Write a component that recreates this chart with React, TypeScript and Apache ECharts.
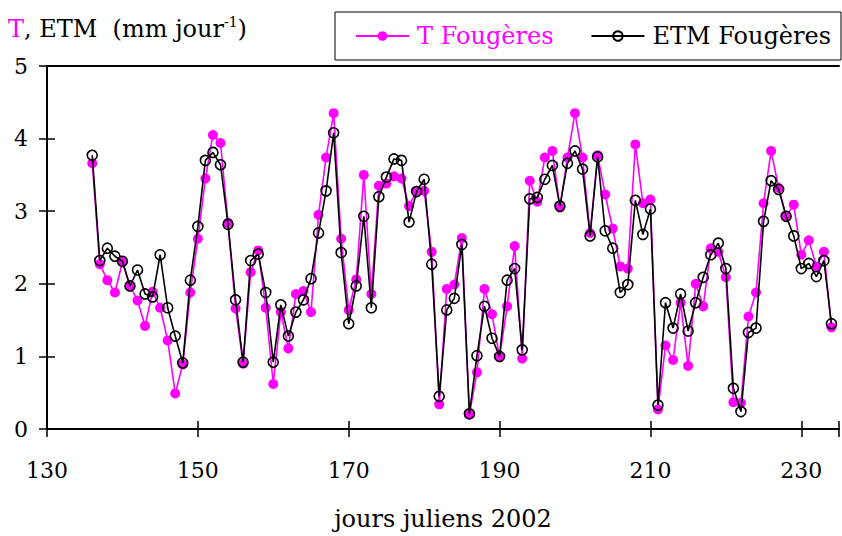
import React, { useEffect, useRef } from "react";
import * as echarts from "echarts";

const days = [
  136, 137, 138, 139, 140, 141, 142, 143, 144, 145, 146, 147, 148, 149, 150,
  151, 152, 153, 154, 155, 156, 157, 158, 159, 160, 161, 162, 163, 164, 165,
  166, 167, 168, 169, 170, 171, 172, 173, 174, 175, 176, 177, 178, 179, 180,
  181, 182, 183, 184, 185, 186, 187, 188, 189, 190, 191, 192, 193, 194, 195,
  196, 197, 198, 199, 200, 201, 202, 203, 204, 205, 206, 207, 208, 209, 210,
  211, 212, 213, 214, 215, 216, 217, 218, 219, 220, 221, 222, 223, 224, 225,
  226, 227, 228, 229, 230, 231, 232, 233, 234,
];

const tFougeres = [
  3.66, 2.27, 2.05, 1.88, 2.3, 1.97, 1.77, 1.42, 1.89, 1.67, 1.22, 0.49, 0.89, 1.88, 2.62,
  3.45, 4.05, 3.94, 2.84, 1.66, 0.9, 2.16, 2.46, 1.67, 0.62, 1.61, 1.11, 1.86, 1.9, 1.61,
  2.95, 3.74, 4.35, 2.62, 1.64, 2.06, 3.5, 1.86, 3.35, 3.38, 3.48, 3.45, 3.07, 3.28, 3.28,
  2.44, 0.34, 1.93, 1.99, 2.63, 0.2, 0.78, 1.93, 1.58, 0.99, 1.69, 2.52, 0.97, 3.42, 3.13,
  3.74, 3.83, 3.05, 3.74, 4.35, 3.74, 2.7, 3.77, 3.23, 2.76, 2.24, 2.21, 3.92, 3.11, 3.16,
  0.27, 1.15, 0.95, 1.74, 0.87, 2.0, 1.69, 2.49, 2.44, 2.09, 0.37, 0.36, 1.55, 1.88, 3.11,
  3.83, 3.32, 2.93, 3.09, 2.4, 2.6, 2.24, 2.44, 1.4,
];

const etmFougeres = [
  3.77, 2.32, 2.49, 2.38, 2.31, 1.97, 2.19, 1.86, 1.82, 2.4, 1.67, 1.28, 0.91, 2.05, 2.79,
  3.7, 3.81, 3.64, 2.82, 1.78, 0.92, 2.32, 2.41, 1.88, 0.92, 1.71, 1.28, 1.61, 1.78, 2.07,
  2.7, 3.28, 4.08, 2.43, 1.45, 1.97, 2.93, 1.67, 3.2, 3.47, 3.72, 3.7, 2.85, 3.27, 3.44,
  2.27, 0.45, 1.64, 1.8, 2.54, 0.21, 1.01, 1.69, 1.25, 1.0, 2.05, 2.21, 1.09, 3.17, 3.19,
  3.44, 3.63, 3.07, 3.66, 3.83, 3.58, 2.66, 3.75, 2.73, 2.49, 1.88, 1.99, 3.15, 2.68, 3.03,
  0.33, 1.74, 1.39, 1.86, 1.35, 1.74, 2.09, 2.4, 2.56, 2.21, 0.56, 0.24, 1.33, 1.39, 2.86,
  3.42, 3.3, 2.93, 2.66, 2.21, 2.28, 2.1, 2.32, 1.45,
];

const xTickLabels = [130, 150, 170, 190, 210, 230];
const yTickLabels = [0, 1, 2, 3, 4, 5];

const FONT = "DejaVu Serif";
const MAGENTA = "#ff00ff";

export default function App() {
  const ref = useRef<HTMLDivElement>(null);

  useEffect(() => {
    if (!ref.current) return;
    const chart = echarts.init(ref.current, undefined, { renderer: "svg" });
    const xMin = xTickLabels[0];
    const xMax = 235;
    const yMin = yTickLabels[0];
    const yMax = yTickLabels[yTickLabels.length - 1];

    const option: any = {
      animation: false,
      backgroundColor: "#ffffff",
      title: {
        text: "{m|T}{b|, ETM\u00a0\u00a0(mm jour}{s|-1}{b|)}",
        left: 8,
        top: 15,
        padding: 0,
        textStyle: {
          fontWeight: "normal",
          rich: {
            m: { color: MAGENTA, fontFamily: FONT, fontSize: 24, fontWeight: "normal", lineHeight: 28 },
            b: { color: "#000", fontFamily: FONT, fontSize: 24, fontWeight: "normal", lineHeight: 28 },
            s: { color: "#000", fontFamily: FONT, fontSize: 14, fontWeight: "normal", lineHeight: 14, verticalAlign: "top" },
          },
        },
      },
      legend: {
        left: 335,
        top: 12,
        padding: [12, 10, 12, 20],
        itemWidth: 53,
        itemHeight: 12,
        itemGap: 37,
        borderColor: "#000",
        borderWidth: 1,
        textStyle: { fontFamily: FONT, fontSize: 24, padding: [0, 0, 0, 3] },
        data: [
          { name: "T Fougères", textStyle: { color: MAGENTA } },
          { name: "ETM Fougères", textStyle: { color: "#000" } },
        ],
      },
      grid: { left: 47, right: 0, top: 66, bottom: 105.5, containLabel: false },
      xAxis: [
        {
          type: "value",
          min: xMin,
          max: xMax,
          interval: 20,
          position: "bottom",
          axisLine: { show: true, lineStyle: { color: "#000", width: 2 } },
          axisTick: { show: true, inside: false, length: 8, lineStyle: { color: "#000", width: 1.5 } },
          axisLabel: {
            color: "#000",
            fontFamily: FONT,
            fontSize: 22,
            margin: 30,
            formatter: (v: number) => (xTickLabels.indexOf(v) >= 0 ? String(v) : ""),
          },
          splitLine: { show: false },
          name: "jours juliens 2002",
          nameLocation: "middle",
          nameGap: 78,
          nameTextStyle: { color: "#000", fontFamily: FONT, fontSize: 24 },
        },
        {
          type: "value",
          min: xMin,
          max: xMax,
          interval: 20,
          position: "bottom",
          axisLine: { show: false },
          axisTick: { show: true, inside: true, length: 8, lineStyle: { color: "#000", width: 1.5 } },
          axisLabel: { show: false },
          splitLine: { show: false },
        },
        {
          type: "value",
          min: xMin,
          max: xMax,
          position: "top",
          axisLine: { show: true, lineStyle: { color: "#000", width: 2 } },
          axisTick: { show: false },
          axisLabel: { show: false },
          splitLine: { show: false },
        },
      ],
      yAxis: [
        {
          type: "value",
          min: yMin,
          max: yMax,
          interval: 1,
          position: "left",
          axisLine: { show: true, lineStyle: { color: "#000", width: 2 } },
          axisTick: { show: true, inside: false, length: 8, lineStyle: { color: "#000", width: 1.5 } },
          axisLabel: { color: "#000", fontFamily: FONT, fontSize: 22, margin: 19 },
          splitLine: { show: false },
        },
        {
          type: "value",
          min: yMin,
          max: yMax,
          interval: 1,
          position: "left",
          axisLine: { show: false },
          axisTick: { show: true, inside: true, length: 8, lineStyle: { color: "#000", width: 1.5 } },
          axisLabel: { show: false },
          splitLine: { show: false },
        },
      ],
      series: [
        {
          name: "T Fougères",
          type: "line",
          xAxisIndex: 0,
          yAxisIndex: 0,
          data: days.map((d, i) => [d, tFougeres[i]]),
          symbol: "circle",
          symbolSize: 10,
          lineStyle: { color: MAGENTA, width: 1.6 },
          itemStyle: { color: MAGENTA },
          z: 2,
        },
        {
          name: "ETM Fougères",
          type: "line",
          xAxisIndex: 0,
          yAxisIndex: 0,
          data: days.map((d, i) => [d, etmFougeres[i]]),
          symbol: "circle",
          symbolSize: 10,
          lineStyle: { color: "#000", width: 1.6 },
          itemStyle: { color: "rgba(0,0,0,0)", borderColor: "#000", borderWidth: 1.6 },
          z: 3,
        },
      ],
    };

    chart.setOption(option);
    return () => chart.dispose();
  }, []);

  return (
    <div
      ref={ref}
      style={{ position: "fixed", left: 0, top: 0, width: 842, height: 536, background: "#fff" }}
    />
  );
}
